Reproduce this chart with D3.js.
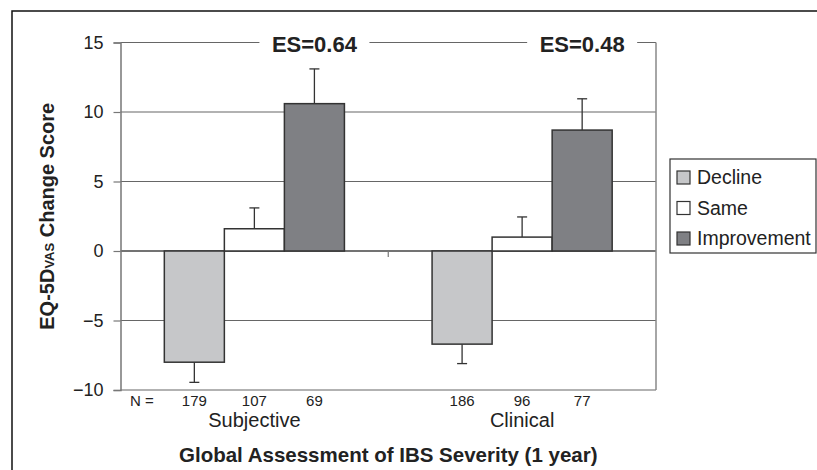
<!DOCTYPE html>
<html>
<head>
<meta charset="utf-8">
<script src="https://cdn.jsdelivr.net/npm/d3@7"></script>
<style>
  body { margin: 0; background: #fff; }
  svg { font-family: "Liberation Sans", Arial, sans-serif; }
</style>
</head>
<body>
<div id="chart"></div>
<script>
const groups = ["Subjective", "Clinical"];
const series = ["Decline", "Same", "Improvement"];
const means = [[-8.0, 1.6, 10.6], [-6.7, 1.0, 8.7]];
const errors = [[1.45, 1.5, 2.5], [1.4, 1.45, 2.25]];
const counts = [[179, 107, 69], [186, 96, 77]];
const effectSizes = ["ES=0.64", "ES=0.48"];
const yTicks = [-10, -5, 0, 5, 10, 15];
const colors = ["#c6c7c9", "#ffffff", "#7f8084"];

const W = 817, H = 470;
const plot = {left: 120.5, right: 656, top: 42.5, bottom: 390};

const svg = d3.select("#chart")
    .append("svg")
    .attr("width", W)
    .attr("height", H);

// outer frame
svg.append("rect")
    .attr("x", 12).attr("y", 11)
    .attr("width", 900).attr("height", 600)
    .style("fill", "none")
    .style("stroke", "#111")
    .style("stroke-width", 1.5);

const y = d3.scaleLinear()
    .domain([-10, 15])
    .range([plot.bottom, plot.top]);

const x0 = d3.scaleBand()
    .domain(groups)
    .range([plot.left, plot.right]);

const x1 = d3.scaleBand()
    .domain(series)
    .range([0, x0.bandwidth()])
    .paddingOuter(0.73);

// grid lines
svg.append("g")
    .selectAll("line")
    .data(yTicks)
    .enter()
    .append("line")
    .attr("x1", plot.left)
    .attr("x2", plot.right)
    .attr("y1", d => y(d))
    .attr("y2", d => y(d))
    .style("stroke", d => d === 0 ? "#444" : "#666")
    .style("stroke-width", d => d === 0 ? 1.5 : 1.2);

// right border
svg.append("line")
    .attr("x1", plot.right).attr("x2", plot.right)
    .attr("y1", y(15)).attr("y2", y(-10))
    .style("stroke", "#888")
    .style("stroke-width", 1.5);

// y axis
const yAxis = svg.append("g")
    .attr("transform", `translate(${plot.left},0)`)
    .call(d3.axisLeft(y).tickValues(yTicks).tickSize(7).tickPadding(10));
yAxis.select(".domain").style("stroke", "#777").style("stroke-width", 1.5);
yAxis.selectAll(".tick line").style("stroke", "#777").style("stroke-width", 1.2);
yAxis.selectAll("text")
    .style("font-size", "18px")
    .style("fill", "#222")
    .style("font-family", "'Liberation Sans', Arial, sans-serif");

// category separator tick
svg.append("line")
    .attr("x1", x0("Clinical")).attr("x2", x0("Clinical"))
    .attr("y1", y(0)).attr("y2", y(0) + 6)
    .style("stroke", "#777")
    .style("stroke-width", 1.2);

// ES labels
groups.forEach((g, i) => {
    const cx = x0(g) + x1("Improvement") + x1.bandwidth() / 2;
    svg.append("rect")
        .attr("x", cx - 55)
        .attr("y", y(15) - 6)
        .attr("width", 110)
        .attr("height", 12)
        .style("fill", "#fff");
    svg.append("text")
        .attr("x", cx)
        .attr("y", y(15) + 9)
        .attr("text-anchor", "middle")
        .style("font-size", "22px")
        .style("font-weight", "bold")
        .style("fill", "#222")
        .text(effectSizes[i]);
});

// bars
const flat = [];
groups.forEach((g, i) => series.forEach((s, j) => {
    flat.push({group: g, series: s, value: means[i][j], err: errors[i][j], n: counts[i][j], color: colors[j]});
}));

svg.append("g")
    .selectAll("line")
    .data(flat)
    .enter()
    .append("line")
    .attr("x1", d => x0(d.group) + x1(d.series) + x1.bandwidth() / 2)
    .attr("x2", d => x0(d.group) + x1(d.series) + x1.bandwidth() / 2)
    .attr("y1", d => y(d.value))
    .attr("y2", d => y(d.value + Math.sign(d.value) * d.err))
    .style("stroke", "#333")
    .style("stroke-width", 1.3);

svg.append("g")
    .selectAll("line")
    .data(flat)
    .enter()
    .append("line")
    .attr("x1", d => x0(d.group) + x1(d.series) + x1.bandwidth() / 2 - 5)
    .attr("x2", d => x0(d.group) + x1(d.series) + x1.bandwidth() / 2 + 5)
    .attr("y1", d => y(d.value + Math.sign(d.value) * d.err))
    .attr("y2", d => y(d.value + Math.sign(d.value) * d.err))
    .style("stroke", "#333")
    .style("stroke-width", 1.3);

svg.append("g")
    .selectAll("rect")
    .data(flat)
    .enter()
    .append("rect")
    .attr("x", d => x0(d.group) + x1(d.series))
    .attr("y", d => y(Math.max(0, d.value)))
    .attr("width", x1.bandwidth())
    .attr("height", d => Math.abs(y(d.value) - y(0)))
    .style("fill", d => d.color)
    .style("stroke", "#333")
    .style("stroke-width", 1.5);

// N labels
svg.append("text")
    .attr("x", 130)
    .attr("y", 406)
    .style("font-size", "15px")
    .style("fill", "#222")
    .text("N =");

svg.append("g")
    .selectAll("text")
    .data(flat)
    .enter()
    .append("text")
    .attr("x", d => x0(d.group) + x1(d.series) + x1.bandwidth() / 2)
    .attr("y", 406)
    .attr("text-anchor", "middle")
    .style("font-size", "15px")
    .style("fill", "#222")
    .text(d => d.n);

// group labels
svg.append("g")
    .selectAll("text")
    .data(groups)
    .enter()
    .append("text")
    .attr("x", d => x0(d) + x0.bandwidth() / 2)
    .attr("y", 427)
    .attr("text-anchor", "middle")
    .style("font-size", "20px")
    .style("fill", "#222")
    .text(d => d);

// x title
svg.append("text")
    .attr("x", (plot.left + plot.right) / 2)
    .attr("y", 462)
    .attr("text-anchor", "middle")
    .style("font-size", "20.5px")
    .style("font-weight", "bold")
    .style("fill", "#222")
    .text("Global Assessment of IBS Severity (1 year)");

// y title
const yTitle = svg.append("text")
    .attr("transform", `translate(54,${(plot.top + plot.bottom) / 2}) rotate(-90)`)
    .attr("text-anchor", "middle")
    .style("font-size", "20px")
    .style("font-weight", "bold")
    .style("fill", "#222");
yTitle.append("tspan").text("EQ-5D");
yTitle.append("tspan").style("font-size", "13px").text("VAS");
yTitle.append("tspan").text(" Change Score");

// legend
svg.append("rect")
    .attr("x", 670).attr("y", 159)
    .attr("width", 146).attr("height", 94)
    .style("fill", "#fff")
    .style("stroke", "#333")
    .style("stroke-width", 1.2);

const legend = svg.append("g")
    .selectAll("g")
    .data(series)
    .enter()
    .append("g")
    .attr("transform", (d, i) => `translate(677,${171 + i * 30.5})`);

legend.append("rect")
    .attr("width", 13)
    .attr("height", 13)
    .style("fill", (d, i) => colors[i])
    .style("stroke", "#333")
    .style("stroke-width", 1.2);

legend.append("text")
    .attr("x", 20)
    .attr("y", 13)
    .style("font-size", "19.5px")
    .style("fill", "#222")
    .text(d => d);
</script>
</body>
</html>
